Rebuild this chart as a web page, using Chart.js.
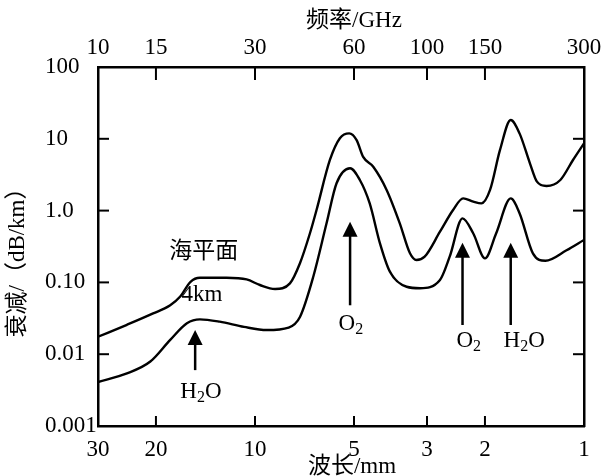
<!DOCTYPE html>
<html lang="zh">
<head>
<meta charset="utf-8">
<title>大气衰减</title>
<script src="https://cdn.jsdelivr.net/npm/chart.js@4.4.1/dist/chart.umd.min.js"></script>
<style>
  html, body { margin: 0; padding: 0; background: #fff; }
  canvas { display: block; }
</style>
</head>
<body>
<canvas id="attenChart" width="610" height="476"></canvas>
<script>
// Curva a nivel del mar (longitud de onda en mm, atenuación en dB/km)
const seaLevelWavelength = [30, 24.5, 20.4, 18.1, 16.9, 15.7, 14.7, 12.2, 10.6, 9.66, 8.69, 7.83, 7.3, 6.81, 6.5, 5.92, 5.52, 5.17, 4.91, 4.69, 4.37, 3.98, 3.63, 3.38, 3.23, 3.05, 2.74, 2.5, 2.33, 2.17, 2.05, 1.93, 1.8, 1.67, 1.57, 1.46, 1.39, 1.3, 1.18, 1.08, 1];
const seaLevelAtten = [0.0175, 0.0257, 0.037, 0.048, 0.063, 0.102, 0.116, 0.116, 0.11, 0.092, 0.081, 0.097, 0.185, 0.48, 1.02, 5.07, 10.2, 11.9, 9.6, 5.6, 4.08, 1.94, 0.665, 0.254, 0.205, 0.228, 0.508, 1.02, 1.48, 1.33, 1.26, 1.94, 7.0, 18.3, 11.9, 4.56, 2.53, 2.2, 2.67, 5.07, 8.65];

// Curva a 4 km de altura
const km4Wavelength = [30, 24.5, 20.8, 18.1, 16.1, 14.7, 12.8, 10.8, 9.21, 7.9, 7.3, 6.65, 6.06, 5.65, 5.14, 4.8, 4.48, 4.17, 3.89, 3.46, 3.15, 2.74, 2.56, 2.34, 2.17, 2.0, 1.85, 1.67, 1.57, 1.43, 1.31, 1.13, 1];
const km4Atten = [0.0041, 0.0054, 0.0079, 0.0158, 0.027, 0.0306, 0.0284, 0.024, 0.0217, 0.0235, 0.033, 0.12, 0.665, 2.4, 3.88, 2.67, 1.26, 0.35, 0.141, 0.087, 0.083, 0.108, 0.228, 0.78, 0.48, 0.216, 0.48, 1.48, 0.92, 0.254, 0.2, 0.28, 0.39];

// Ejes
const wavelengthTicks = [30, 20, 10, 5, 3, 2, 1];
const frequencyTicks = [10, 15, 30, 60, 100, 150, 300];
const attenTicks = [0.001, 0.01, 0.1, 1, 10, 100];
const attenTickLabels = ['0.001', '0.01', '0.10', '1.0', '10', '100'];

// Flechas de absorción: posición (mm), punta y cola (dB/km)
const arrowWavelength = [15.2, 5.14, 2.34, 1.67];
const arrowTip = [0.0217, 0.70, 0.357, 0.357];
const arrowTail = [0.006, 0.048, 0.0255, 0.0255];

// Nombres de las moléculas bajo las flechas
const gasNames = ['H2O', 'O2', 'O2', 'H2O'];
const gasLabelWavelength = [14.6, 5.11, 2.24, 1.52];
const gasLabelAtten = [0.00297, 0.0263, 0.0153, 0.0153];

// Etiquetas de las curvas
const curveNames = ['海平面', '4km'];
const curveLabelWavelength = [14.3, 14.5];
const curveLabelAtten = [0.265, 0.067];

const FONT = '"Liberation Serif", "Noto Sans CJK SC", serif';

const toPoints = (xs, ys) => xs.map((x, i) => ({ x: x, y: ys[i] }));

// Marcas de los ejes hacia dentro
const inwardTicks = {
    id: 'inwardTicks',
    afterDraw(chart) {
        const { ctx, chartArea: a, scales } = chart;
        ctx.save();
        ctx.strokeStyle = '#000';
        ctx.lineWidth = 2;
        const seg = (x1, y1, x2, y2) => {
            ctx.beginPath();
            ctx.moveTo(x1, y1);
            ctx.lineTo(x2, y2);
            ctx.stroke();
        };
        const inside = (p, lo, hi) => p > lo + 3 && p < hi - 3;
        scales.x.ticks.forEach(t => {
            const px = scales.x.getPixelForValue(t.value);
            if (inside(px, a.left, a.right)) seg(px, a.bottom, px, a.bottom - 10);
        });
        scales.x2.ticks.forEach(t => {
            const px = scales.x2.getPixelForValue(t.value);
            if (inside(px, a.left, a.right)) seg(px, a.top, px, a.top + 13);
        });
        scales.y.ticks.forEach(t => {
            const py = scales.y.getPixelForValue(t.value);
            if (inside(py, a.top, a.bottom)) {
                seg(a.left, py, a.left + 11, py);
                seg(a.right, py, a.right - 11, py);
            }
        });
        ctx.restore();
    }
};

// Texto con subíndices (H2O, O2)
const drawChemical = (ctx, name, cx, cy) => {
    const parts = name.match(/[A-Za-z]+|\d+/g);
    const big = '23px ' + FONT;
    const small = '16px ' + FONT;
    let total = 0;
    parts.forEach(p => {
        ctx.font = /\d/.test(p) ? small : big;
        total += ctx.measureText(p).width;
    });
    let x = cx - total / 2;
    ctx.textAlign = 'left';
    parts.forEach(p => {
        const sub = /\d/.test(p);
        ctx.font = sub ? small : big;
        ctx.fillText(p, x, sub ? cy + 6 : cy);
        x += ctx.measureText(p).width;
    });
};

// Flechas, etiquetas y títulos de los ejes
const annotations = {
    id: 'annotations',
    afterDraw(chart) {
        const { ctx, scales } = chart;
        const xs = scales.x, ys = scales.y;
        ctx.save();
        ctx.fillStyle = '#000';
        ctx.strokeStyle = '#000';
        ctx.lineWidth = 2.5;

        arrowWavelength.forEach((w, i) => {
            const px = xs.getPixelForValue(w);
            const tip = ys.getPixelForValue(arrowTip[i]);
            const tail = ys.getPixelForValue(arrowTail[i]);
            ctx.beginPath();
            ctx.moveTo(px, tail);
            ctx.lineTo(px, tip + 10);
            ctx.stroke();
            ctx.beginPath();
            ctx.moveTo(px, tip);
            ctx.lineTo(px - 7.5, tip + 15);
            ctx.lineTo(px + 7.5, tip + 15);
            ctx.closePath();
            ctx.fill();
        });

        ctx.textBaseline = 'middle';
        gasNames.forEach((name, i) => {
            drawChemical(ctx, name, xs.getPixelForValue(gasLabelWavelength[i]), ys.getPixelForValue(gasLabelAtten[i]));
        });

        ctx.font = '23px ' + FONT;
        ctx.textAlign = 'center';
        curveNames.forEach((name, i) => {
            ctx.fillText(name, xs.getPixelForValue(curveLabelWavelength[i]), ys.getPixelForValue(curveLabelAtten[i]));
        });

        // Títulos de los ejes
        ctx.fillText('频率/GHz', 354, 21);
        ctx.fillText('波长/mm', 352, 467);
        ctx.translate(18, 257);
        ctx.rotate(-Math.PI / 2);
        ctx.fillText('衰减/（dB/km）', 0, 0);
        ctx.restore();
    }
};

Chart.defaults.font.family = FONT;
Chart.defaults.font.size = 23;
Chart.defaults.color = '#000';

const lineStyle = {
    borderColor: '#000',
    borderWidth: 2.4,
    pointRadius: 0,
    fill: false,
    tension: 0.4,
    cubicInterpolationMode: 'monotone'
};

const axisBorder = { display: true, color: '#000', width: 2.5 };

const ctx = document.getElementById('attenChart').getContext('2d');
new Chart(ctx, {
    type: 'line',
    data: {
        datasets: [
            Object.assign({ label: '海平面', data: toPoints(seaLevelWavelength, seaLevelAtten) }, lineStyle),
            Object.assign({ label: '4km', data: toPoints(km4Wavelength, km4Atten) }, lineStyle)
        ]
    },
    options: {
        responsive: false,
        animation: false,
        devicePixelRatio: 1,
        layout: { padding: { left: 45, right: 26, top: 0, bottom: 0 } },
        plugins: {
            legend: { display: false },
            tooltip: { enabled: false }
        },
        scales: {
            x: {
                type: 'logarithmic',
                position: 'bottom',
                min: 1,
                max: 30,
                reverse: true,
                grid: { display: false, drawTicks: false },
                border: axisBorder,
                afterBuildTicks: s => { s.ticks = wavelengthTicks.map(v => ({ value: v })); },
                afterFit: s => { s.height = 50; },
                ticks: {
                    autoSkip: false,
                    maxRotation: 0,
                    padding: 10,
                    callback: (v, i) => String(wavelengthTicks[i])
                }
            },
            x2: {
                type: 'logarithmic',
                position: 'top',
                min: 10,
                max: 300,
                grid: { display: false, drawTicks: false },
                border: axisBorder,
                afterBuildTicks: s => { s.ticks = frequencyTicks.map(v => ({ value: v })); },
                afterFit: s => { s.height = 67; },
                ticks: {
                    autoSkip: false,
                    maxRotation: 0,
                    padding: 5,
                    callback: (v, i) => String(frequencyTicks[i])
                }
            },
            y: {
                type: 'logarithmic',
                position: 'left',
                min: 0.001,
                max: 100,
                grid: { display: false, drawTicks: false },
                border: axisBorder,
                afterBuildTicks: s => { s.ticks = attenTicks.map(v => ({ value: v })); },
                afterFit: s => { s.width = 53; },
                ticks: {
                    autoSkip: false,
                    crossAlign: 'far',
                    callback: (v, i) => attenTickLabels[i]
                }
            },
            y2: {
                type: 'logarithmic',
                position: 'right',
                min: 0.001,
                max: 100,
                grid: { display: false, drawTicks: false },
                border: axisBorder,
                afterFit: s => { s.width = 0; },
                ticks: { display: false }
            }
        }
    },
    plugins: [inwardTicks, annotations]
});
</script>
</body>
</html>
